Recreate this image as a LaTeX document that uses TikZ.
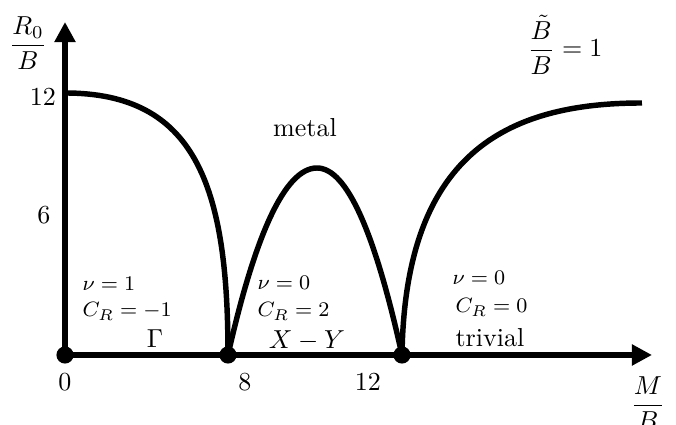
\documentclass[tikz,border=0pt]{standalone}
\usepackage{amsmath}
\usepackage{tikz}
\usetikzlibrary{arrows.meta}
\tikzset{
  px/.style={x=0.3846pt, y=0.3846pt},
  axis/.style={black, line width=2.3pt, -{Triangle[length=7.7pt,width=7.7pt]}},
  phase/.style={black, line width=2.1pt},
  dot/.style={circle, fill=black, inner sep=0pt, minimum size=6.6pt},
  tlab/.style={inner sep=0pt},
  small/.style={font=\footnotesize, anchor=base west, inner sep=0pt},
  big/.style={anchor=base, inner sep=0pt},
}

\begin{document}
\begin{tikzpicture}[px]
  \useasboundingbox (-65,-70) rectangle (611,355);

  % --- axes ---
  \coordinate (O) at (0,0);
  \coordinate (xend) at (587,0);
  \coordinate (yend) at (0,333);
  \draw[axis] (O)--(xend);
  \draw[axis] (O)--(yend);

  % --- transition points on the M/B axis ---
  \node[dot] (d0) at (0,0) {};
  \node[dot] (d8) at (163,0) {};
  \node[dot] (d12) at (337,0) {};

  % --- phase boundaries ---
  \coordinate (top) at (0,262);
  \coordinate (peak) at (252,187);
  \coordinate (far) at (577,252);
  \draw[phase] (top) .. controls (130,262) and (163,170) .. (d8.center);
  \draw[phase] (d8.center) .. controls (190,120) and (220,187) .. (peak)
               .. controls (282,187) and (310,122) .. (d12.center);
  \draw[phase] (d12.center) .. controls (340,200) and (440,252) .. (far);

  % --- axis labels and ticks ---
  \node[tlab] (ylab) at (-37,312) {$\dfrac{R_0}{B}$};
  \node[tlab] (xlab) at (583,-48) {$\dfrac{M}{B}$};
  \node[tlab] (y12) at (-22,258) {12};
  \node[tlab] (y6) at (-21,140) {6};
  \node[tlab] (x0) at (0,-27) {0};
  \node[tlab] (x8) at (180,-27) {8};
  \node[tlab] (x12) at (303,-27) {12};

  % --- region labels ---
  \node[tlab] (ratio) at (500,310) {$\dfrac{\tilde{B}}{B}=1$};
  \node[big] (metal) at (240,218) {metal};
  \node[small] (nuG) at (17,64) {$\nu=1$};
  \node[small] (cG) at (17,38) {$C_R=-1$};
  \node[big] (gam) at (90,7) {$\Gamma$};
  \node[small] (nuXY) at (192,65) {$\nu=0$};
  \node[small] (cXY) at (192,38) {$C_R=2$};
  \node[big] (xy) at (242,6) {$X-Y$};
  \node[small] (nuT) at (387,70) {$\nu=0$};
  \node[small] (cT) at (390,42) {$C_R=0$};
  \node[anchor=base west, inner sep=0pt] (triv) at (390,8) {trivial};
\end{tikzpicture}
\end{document}
